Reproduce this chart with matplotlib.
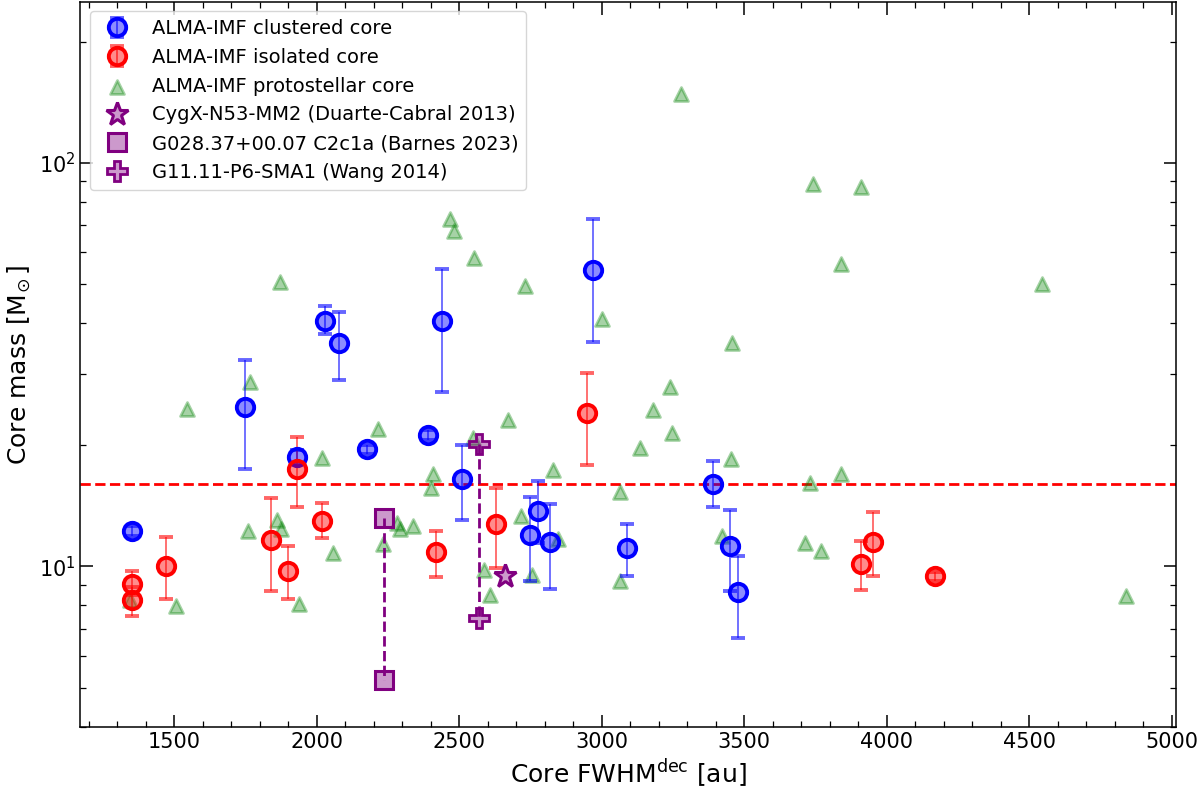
import matplotlib
matplotlib.use("Agg")
import matplotlib.pyplot as plt
import numpy as np
from matplotlib.ticker import MultipleLocator

# ALMA-IMF clustered cores: FWHM [au], mass, lower / upper end of the error bar [Msun]
clu_fwhm = [1350, 1747, 1929, 2029, 2079, 2177, 2390, 2440, 2510, 2748, 2777, 2817,
            2970, 3089, 3389, 3450, 3479]
clu_mass = [12.25, 24.8, 18.7, 40.5, 35.8, 19.5, 21.2, 40.5, 16.45, 11.97, 13.73, 11.5,
            54.4, 11.1, 16.0, 11.24, 8.64]
clu_low = [11.9, 17.4, 18.0, 37.6, 29.0, 19.0, 20.6, 27.1, 13.0, 9.17, 11.4, 8.78,
           35.9, 9.46, 14.05, 8.69, 6.63]
clu_high = [12.6, 32.5, 19.4, 44.2, 42.7, 20.0, 21.8, 54.5, 20.0, 14.87, 16.25, 14.3,
            72.7, 12.73, 18.2, 13.8, 10.6]

# ALMA-IMF isolated cores
iso_fwhm = [1350, 1350, 1470, 1840, 1900, 1929, 2019, 2419, 2628, 2949, 3910, 3950, 4170]
iso_mass = [9.05, 8.26, 10.0, 11.63, 9.76, 17.4, 12.97, 10.82, 12.75, 24.0, 10.13, 11.46, 9.44]
iso_low = [8.5, 7.53, 8.29, 8.69, 8.32, 14.0, 11.72, 9.42, 9.93, 17.86, 8.74, 9.47, 9.2]
iso_high = [9.76, 8.9, 11.8, 14.73, 11.24, 20.9, 14.35, 12.25, 15.6, 30.2, 11.57, 13.6, 9.7]

# ALMA-IMF protostellar cores
pro_fwhm = [1345, 1505, 1543, 1759, 1765, 1861, 1871, 1875, 1937, 2018, 2058, 2216, 2233,
            2280, 2292, 2339, 2401, 2409, 2467, 2481, 2549, 2552, 2588, 2608, 2670, 2717,
            2731, 2754, 2830, 2848, 3002, 3064, 3064, 3134, 3181, 3240, 3245, 3277, 3421,
            3454, 3458, 3713, 3729, 3740, 3768, 3839, 3840, 3911, 4545, 4839]
pro_mass = [8.26, 7.98, 24.5, 12.25, 28.7, 13.04, 50.7, 12.37, 8.07, 18.6, 10.78, 21.9, 11.38,
            12.8, 12.37, 12.56, 15.6, 16.96, 72.7, 67.8, 20.8, 58.2, 9.8, 8.5, 23.1, 13.3,
            49.6, 9.53, 17.3, 11.7, 41.0, 15.24, 9.22, 19.65, 24.4, 27.9, 21.4, 148.5, 11.9,
            18.5, 35.7, 11.4, 16.1, 88.7, 10.9, 16.9, 56.3, 87.1, 50.0, 8.45]

# literature cores
cygx_fwhm, cygx_mass = [2660], [9.44]
g028_fwhm, g028_mass = [2236, 2236], [13.2, 5.23]
g11_fwhm, g11_mass = [2568, 2568], [20.1, 7.44]

mass_limit = 16

fig = plt.figure(figsize=(12, 7.9), dpi=100)
ax = fig.add_subplot(111)
fig.subplots_adjust(left=0.0667, right=0.98, bottom=0.08, top=0.9978)


def core_errorbar(x, m, lo, hi, col, label):
    m = np.array(m)
    yerr = [m - np.array(lo), np.array(hi) - m]
    return ax.errorbar(x, m, yerr=yerr, fmt="o", ms=12.5,
                       mfc=matplotlib.colors.to_rgba(col, 0.45),
                       mec=col, mew=2.8, ecolor=matplotlib.colors.to_rgba(col, 0.6),
                       elinewidth=1.3, capsize=5, capthick=2.6, label=label, zorder=3)


h_clu = core_errorbar(clu_fwhm, clu_mass, clu_low, clu_high, "blue", "ALMA-IMF clustered core")
h_iso = core_errorbar(iso_fwhm, iso_mass, iso_low, iso_high, "red", "ALMA-IMF isolated core")
h_pro = ax.scatter(pro_fwhm, pro_mass, marker="^", s=100, c="green", alpha=0.35, linewidths=2,
                   label="ALMA-IMF protostellar core", zorder=2)

pfc = matplotlib.colors.to_rgba("purple", 0.4)
ax.plot(g028_fwhm, g028_mass, ls="--", lw=2, color="purple", zorder=3)
ax.plot(g11_fwhm, g11_mass, ls="--", lw=2, color="purple", zorder=3)
h_cyg, = ax.plot(cygx_fwhm, cygx_mass, ls="none", marker="*", ms=17, mfc=pfc, mec="purple",
                 mew=2.2, label="CygX-N53-MM2 (Duarte-Cabral 2013)", zorder=4)
h_g028, = ax.plot(g028_fwhm, g028_mass, ls="none", marker="s", ms=13.5, mfc=pfc, mec="purple",
                  mew=2.2, label="G028.37+00.07 C2c1a (Barnes 2023)", zorder=4)
h_g11, = ax.plot(g11_fwhm, g11_mass, ls="none", marker="P", ms=15, mfc=pfc, mec="purple",
                 mew=2, label="G11.11-P6-SMA1 (Wang 2014)", zorder=4)

ax.axhline(mass_limit, color="red", ls="--", lw=2, zorder=1)

ax.set_yscale("log")
ax.set_xlim(1169, 5015)
ax.set_ylim(4, 251)
ax.xaxis.set_major_locator(MultipleLocator(500))
ax.xaxis.set_minor_locator(MultipleLocator(100))
ax.tick_params(which="both", direction="in", top=True, right=True, labelsize=15)
ax.tick_params(which="major", length=9, width=1.1)
ax.tick_params(which="minor", length=4.5, width=0.9)
for s in ax.spines.values():
    s.set_linewidth(1.1)

ax.set_xlabel(r"Core FWHM$^{\rm dec}$ [au]", fontsize=18)
ax.set_ylabel(r"Core mass [M$_{\!\odot}$]", fontsize=18)
handles = [h_clu, h_iso, h_pro, h_cyg, h_g028, h_g11]
ax.legend(handles, [h.get_label() for h in handles], loc="upper left", fontsize=14)

fig.savefig("out.png", dpi=100)
